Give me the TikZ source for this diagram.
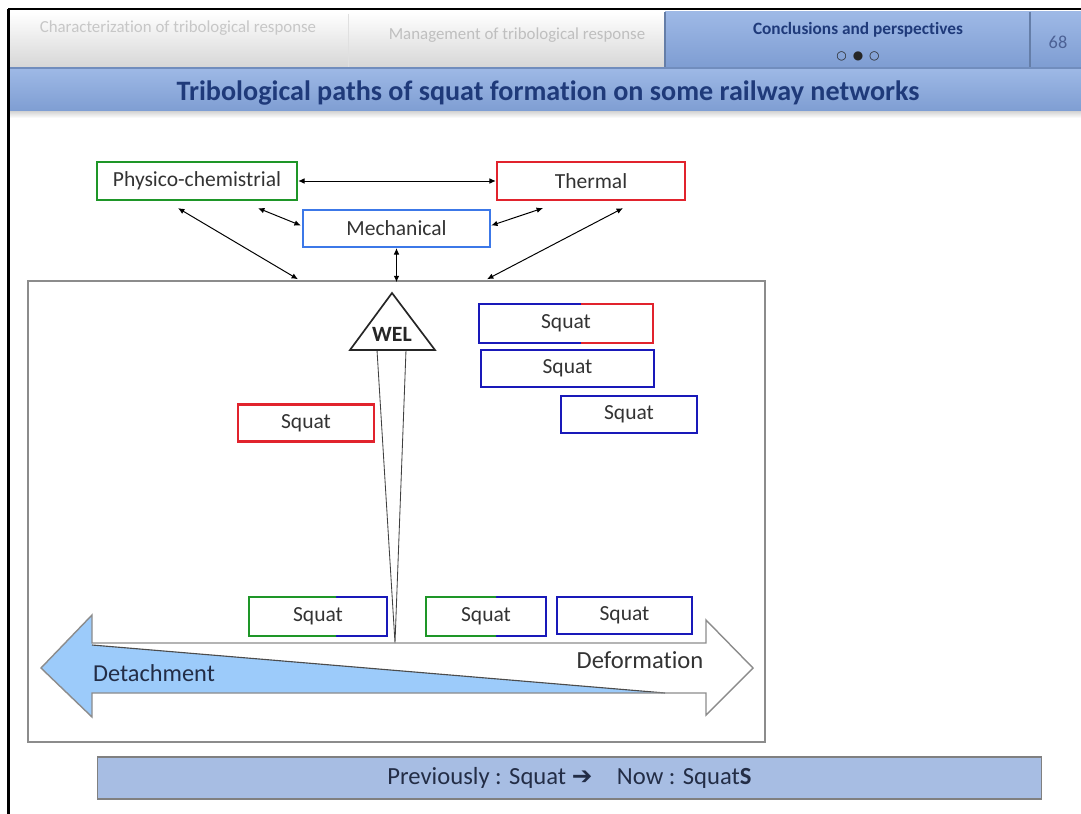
\documentclass[tikz,border=0pt]{standalone}
\usepackage{fontspec}
\setmainfont{Carlito}[Ligatures={NoCommon}]
\newfontfamily\symfont{DejaVu Sans}
\usepackage{tikz}
\usetikzlibrary{arrows.meta, positioning, calc, shapes.geometric}
\usepackage{xcolor}
\definecolor{physgreen}{RGB}{30,150,40}
\definecolor{thermred}{RGB}{225,35,45}
\definecolor{mechblue}{RGB}{60,120,232}
\definecolor{squatblue}{RGB}{25,25,185}
\definecolor{zonegray}{RGB}{140,140,140}
\definecolor{arrowfill}{RGB}{156,203,250}
\definecolor{notefill}{RGB}{167,189,227}
\definecolor{titleblue}{RGB}{31,58,122}
\definecolor{bandtop}{RGB}{158,185,230}
\definecolor{bandbot}{RGB}{126,157,210}
\definecolor{tabgray}{RGB}{214,214,214}
\definecolor{labelink}{RGB}{35,45,70}

\begin{document}
\begin{tikzpicture}[
		x=0.025cm, y=-0.025cm,
		every node/.style={font=\fontsize{15.3}{18}\selectfont, text=black!80},
		factor/.style={draw, line width=1.6pt, fill=white, minimum height=0.95cm, inner sep=0pt},
		squatbox/.style={line width=1.6pt, minimum height=0.925cm, inner sep=0pt},
		link/.style={{Latex[length=1.6mm,width=1.4mm]}-{Latex[length=1.6mm,width=1.4mm]}, line width=0.7pt, black}
	]
	\useasboundingbox (0,0) rectangle (1081,814);
	% slide header
	\fill[top color=white, bottom color=tabgray] (10,12) rectangle (665,68);
	\draw[black!12] (348,14) -- (348,68);
	\fill[top color=bandtop, bottom color=bandbot] (665,12) rectangle (1081,68);
	\draw[bandbot!80!black, line width=1pt] (665,12) -- (665,68) (1030,12) -- (1030,68);
	\fill[top color=bandtop, bottom color=bandbot] (10,68) rectangle (1081,112);
	\draw[bandbot!90!black, line width=0.8pt] (10,68) -- (1081,68);
	\fill[top color=black!15, bottom color=white] (10,112) rectangle (1081,118);
	\draw[line width=2pt] (8,9) -- (1081,9);
	\draw[line width=1.5pt] (8.5,9) -- (8.5,814);
	\node[font=\fontsize{12}{14}\selectfont, text=black!22] (tabone) at (178,28) {Characterization of tribological response};
	\node[font=\fontsize{12}{14}\selectfont, text=black!25] (tabtwo) at (517,35) {Management of tribological response};
	\node[font=\bfseries\fontsize{12.3}{14}\selectfont, text=titleblue] (tabthree) at (858,30) {Conclusions and perspectives};
	\node[font=\symfont\fontsize{8.5}{10}\selectfont, text=black!85] (dots) at (858,56) {○\enspace●\enspace○};
	\node[font=\fontsize{13}{15}\selectfont, text=titleblue!80] (page) at (1058,42) {68};
	\node[font=\bfseries\fontsize{20}{23}\selectfont, text=titleblue] (title) at (548,93) {Tribological paths of squat formation on some railway networks};

	% the three factors
	\node[factor, draw=physgreen, minimum width=5cm] (phys) at (197,181) {Physico-chemistrial};
	\node[factor, draw=thermred, minimum width=4.7cm] (therm) at (591,181) {Thermal};
	\node[factor, draw=mechblue, minimum width=4.675cm, minimum height=0.925cm] (mech) at (396.5,228.5) {Mechanical};

	% frame of the squat zone
	\node[draw=zonegray, line width=1pt, minimum width=18.425cm, minimum height=11.525cm, inner sep=0pt] (zone) at (396.5,511.5) {};

	% links between factors
	\draw[link] (phys.east) -- (therm.west);
	\draw[link] ($(phys.south)+(-19,7)$) -- ($(zone.north)+(-98.5,-1)$);
	\draw[link] ($(phys.south)+(61,7)$) -- ($(mech.west)+(-1,-3)$);
	\draw[link] ($(therm.south)+(-48,7)$) -- ($(mech.east)+(0,-3)$);
	\draw[link] ($(therm.south)+(32,7)$) -- ($(zone.north)+(90.5,-1)$);
	\draw[link] (mech.south) -- ($(zone.north)+(0,2)$);

	% WEL
	\draw[line width=0.6pt, black!75] (377,350) -- (395,643) -- (406,350);
	\draw[line width=1.2pt, black!85, fill=white] (392,293) -- (435,350) -- (350,350) -- cycle;
	\node[font=\bfseries\fontsize{15.5}{17}\selectfont, text=black!85] (wel) at (392,334) {WEL};

	% detachment / deformation arrow
	\fill[arrowfill] (41,668) -- (92,615) -- (92,645) -- (665,693) -- (92,693) -- (92,717) -- cycle;
	\draw[black!70, line width=0.8pt] (92,645) -- (665,693);
	\draw[zonegray, line width=1pt, line join=miter] (41,668) -- (92,615) -- (92,643) -- (706,643) -- (706,620) -- (753,668) -- (706,715) -- (706,693) -- (92,693) -- (92,717) -- cycle;
	\node[font=\fontsize{17.3}{20}\selectfont, text=labelink] (detach) at (154,673) {Detachment};
	\node[font=\fontsize{17.5}{20}\selectfont, text=black!80] (deform) at (640,660) {Deformation};

	% squats
	\node[squatbox, minimum width=4.3cm] (sqa) at (566,323.5) {Squat};
	\draw[squatbox, squatblue] ($(sqa.north west)+(102,0)$) -- (sqa.north west) -- (sqa.south west) -- ($(sqa.south west)+(102,0)$);
	\draw[squatbox, thermred] ($(sqa.north west)+(102,0)$) -- (sqa.north east) -- (sqa.south east) -- ($(sqa.south west)+(102,0)$);
	\node[squatbox, draw=squatblue, minimum width=4.325cm] (sqb) at (567.5,368.5) {Squat};
	\node[squatbox, draw=squatblue, minimum width=3.4cm] (sqc) at (629,414.5) {Squat};
	\node[squatbox, draw=thermred, minimum width=3.4cm] (sqd) at (306,423) {Squat};
	\node[squatbox, minimum width=3.4cm] (sqe) at (318,616.5) {Squat};
	\draw[squatbox, physgreen] ($(sqe.north west)+(87,0)$) -- (sqe.north west) -- (sqe.south west) -- ($(sqe.south west)+(87,0)$);
	\draw[squatbox, squatblue] ($(sqe.north west)+(87,0)$) -- (sqe.north east) -- (sqe.south east) -- ($(sqe.south west)+(87,0)$);
	\node[squatbox, minimum width=2.95cm] (sqf) at (486,616.5) {Squat};
	\draw[squatbox, physgreen] ($(sqf.north west)+(70,0)$) -- (sqf.north west) -- (sqf.south west) -- ($(sqf.south west)+(70,0)$);
	\draw[squatbox, squatblue] ($(sqf.north west)+(70,0)$) -- (sqf.north east) -- (sqf.south east) -- ($(sqf.south west)+(70,0)$);
	\node[squatbox, draw=squatblue, minimum width=3.375cm] (sqg) at (624.5,615.5) {Squat};

	% conclusion bar
	\node[draw=black!50, line width=0.8pt, fill=notefill, minimum width=23.575cm, minimum height=1.05cm, inner sep=0pt, font=\fontsize{17.5}{20}\selectfont, text=labelink] (note) at (569.5,778) {Previously : Squat {\symfont\bfseries ➔}\quad Now : Squat\textbf{S}};
\end{tikzpicture}
\end{document}
